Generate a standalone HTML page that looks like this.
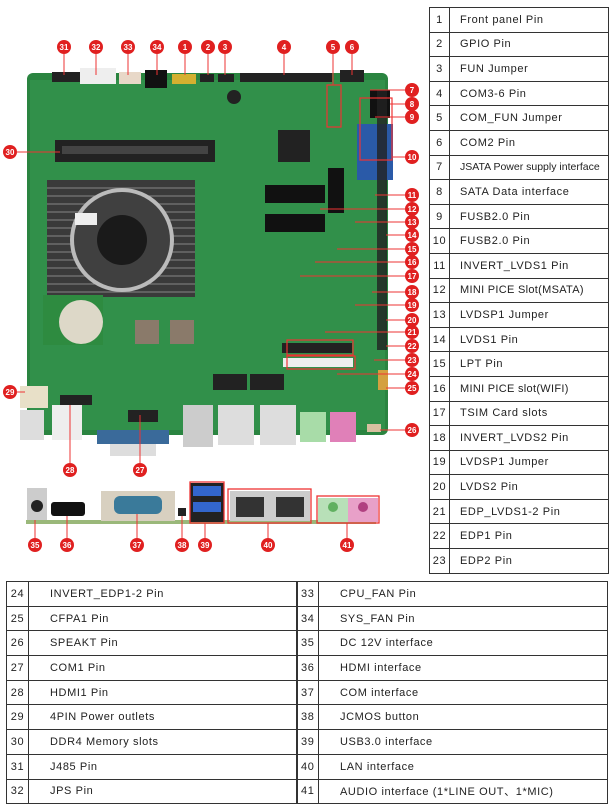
<!DOCTYPE html>
<html><head><meta charset="utf-8"><style>
body{margin:0;width:614px;height:810px;background:#fff;position:relative;overflow:hidden;font-family:"Liberation Sans",sans-serif;}
table{border-collapse:collapse;position:absolute;font-size:11px;letter-spacing:0.6px;color:#222;table-layout:fixed;}
td{border:1px solid #333;padding:0;white-space:nowrap;}
#rt{left:429px;top:7px;width:180px;}
#rt td{height:23.6px;}
#rt td.n{width:19px;text-align:center;}
#rt td.t{padding-left:10px;}
#bt{left:6px;top:581px;width:602px;}
#bt td{height:23.7px;}
#bt td.n{width:21px;text-align:center;}
#bt td.t{padding-left:21px;}
#bt td.n2{width:21px;text-align:center;border-left:2px solid #333;}
svg{position:absolute;left:0;top:0;}
</style></head><body>
<svg width="420" height="570" viewBox="0 0 420 570">
<rect x="27" y="73" width="361" height="362" rx="6" fill="#2a8440"/>
<rect x="30" y="80" width="355" height="350" fill="#31904a"/>
<rect x="52" y="72" width="28" height="10" fill="#222"/>
<rect x="80" y="68" width="36" height="16" fill="#eee"/>
<rect x="119" y="72" width="22" height="12" fill="#e8d8c8"/>
<rect x="145" y="70" width="22" height="18" fill="#111"/>
<rect x="172" y="74" width="24" height="10" fill="#d4b030"/>
<rect x="200" y="74" width="14" height="8" fill="#222"/>
<rect x="218" y="74" width="16" height="8" fill="#222"/>
<rect x="240" y="73" width="92" height="9" fill="#222"/>
<rect x="340" y="70" width="24" height="12" fill="#222"/>
<circle cx="234" cy="97" r="7" fill="#222"/>
<rect x="55" y="140" width="160" height="22" fill="#222"/>
<rect x="62" y="146" width="146" height="8" fill="#444"/>
<rect x="47" y="180" width="148" height="117" fill="#3a3a3a"/>
<g stroke="#777" stroke-width="1.2">
<line x1="47" y1="188" x2="195" y2="188"/><line x1="47" y1="196" x2="195" y2="196"/><line x1="47" y1="204" x2="195" y2="204"/><line x1="47" y1="212" x2="195" y2="212"/><line x1="47" y1="220" x2="195" y2="220"/><line x1="47" y1="228" x2="195" y2="228"/><line x1="47" y1="236" x2="195" y2="236"/><line x1="47" y1="244" x2="195" y2="244"/><line x1="47" y1="252" x2="195" y2="252"/><line x1="47" y1="260" x2="195" y2="260"/><line x1="47" y1="268" x2="195" y2="268"/><line x1="47" y1="276" x2="195" y2="276"/><line x1="47" y1="284" x2="195" y2="284"/><line x1="47" y1="292" x2="195" y2="292"/>
</g>
<circle cx="122" cy="240" r="52" fill="#bbb"/>
<circle cx="122" cy="240" r="48" fill="#2a2a2a" opacity=".85"/>
<circle cx="122" cy="240" r="25" fill="#1a1a1a"/>
<rect x="75" y="213" width="22" height="12" fill="#eee"/>
<rect x="278" y="130" width="32" height="32" fill="#222"/>
<rect x="265" y="185" width="60" height="18" fill="#111"/>
<rect x="265" y="214" width="60" height="18" fill="#111"/>
<rect x="328" y="168" width="16" height="45" fill="#111"/>
<rect x="357" y="150" width="36" height="30" fill="#2a5aa8"/>
<rect x="357" y="124" width="36" height="26" fill="#2a5aa8"/>
<rect x="370" y="90" width="20" height="28" fill="#111"/>
<rect x="377" y="90" width="10" height="260" fill="#222" opacity=".8"/>
<rect x="43" y="295" width="60" height="50" fill="#2e8b40"/>
<circle cx="81" cy="322" r="22" fill="#ddd8c8"/>
<rect x="135" y="320" width="24" height="24" fill="#8a7a6a"/>
<rect x="170" y="320" width="24" height="24" fill="#8a7a6a"/>
<rect x="282" y="343" width="70" height="10" fill="#222"/>
<rect x="283" y="358" width="70" height="9" fill="#eee"/>
<rect x="213" y="374" width="34" height="16" fill="#222"/>
<rect x="250" y="374" width="34" height="16" fill="#222"/>
<rect x="378" y="370" width="10" height="20" fill="#d4a040"/>
<rect x="20" y="386" width="28" height="22" fill="#e8e0c8"/>
<rect x="20" y="410" width="24" height="30" fill="#ddd"/>
<rect x="52" y="405" width="30" height="35" fill="#eee"/>
<rect x="60" y="395" width="32" height="10" fill="#222"/>
<rect x="128" y="410" width="30" height="12" fill="#222"/>
<rect x="97" y="430" width="72" height="14" fill="#3a6a9a"/>
<rect x="110" y="444" width="46" height="12" fill="#ddd"/>
<rect x="183" y="405" width="30" height="42" fill="#ccc"/>
<rect x="218" y="405" width="36" height="40" fill="#ddd"/>
<rect x="260" y="405" width="36" height="40" fill="#ddd"/>
<rect x="300" y="412" width="26" height="30" fill="#a8dca8"/>
<rect x="330" y="412" width="26" height="30" fill="#e080b8"/>
<rect x="367" y="424" width="14" height="8" fill="#d8c0a0"/>
<rect x="26" y="520" width="350" height="4" fill="#9ab87a"/>
<rect x="27" y="488" width="20" height="32" fill="#ccc"/><circle cx="37" cy="506" r="6" fill="#222"/>
<rect x="51" y="502" width="34" height="14" rx="3" fill="#111"/>
<rect x="101" y="491" width="74" height="30" fill="#d8d0c0"/>
<rect x="114" y="496" width="48" height="18" rx="6" fill="#3a7a9a"/>
<rect x="178" y="508" width="8" height="8" fill="#222"/>
<rect x="190" y="483" width="34" height="39" fill="#222"/>
<rect x="193" y="486" width="28" height="10" fill="#3366cc"/><rect x="193" y="502" width="28" height="10" fill="#3366cc"/>
<rect x="190" y="482" width="34" height="41" fill="none" stroke="#e33" stroke-width="1.3"/>
<rect x="230" y="491" width="40" height="30" fill="#ccc"/><rect x="270" y="491" width="40" height="30" fill="#ccc"/>
<rect x="236" y="497" width="28" height="20" fill="#333"/><rect x="276" y="497" width="28" height="20" fill="#333"/>
<rect x="228" y="489" width="83" height="34" fill="none" stroke="#e33" stroke-width="1.3"/>
<rect x="318" y="498" width="30" height="24" fill="#b8e0b8"/><rect x="348" y="498" width="30" height="24" fill="#e8a0c8"/>
<circle cx="333" cy="507" r="5" fill="#60b060"/><circle cx="363" cy="507" r="5" fill="#b04080"/>
<rect x="317" y="496" width="62" height="27" fill="none" stroke="#e33" stroke-width="1.3"/>
<g fill="none" stroke="#e33" stroke-width="1.2">
<rect x="327" y="85" width="14" height="42"/>
<rect x="360" y="98" width="32" height="62"/>
<rect x="287" y="340" width="66" height="15"/>
<rect x="287" y="356" width="68" height="13"/>
</g>
<g stroke="#e33" stroke-width="1" fill="none">
<line x1="64" y1="54" x2="64" y2="75"/><line x1="96" y1="54" x2="96" y2="75"/><line x1="128" y1="54" x2="128" y2="75"/><line x1="157" y1="54" x2="157" y2="75"/><line x1="185" y1="54" x2="185" y2="75"/><line x1="208" y1="54" x2="208" y2="75"/><line x1="225" y1="54" x2="225" y2="75"/><line x1="284" y1="54" x2="284" y2="75"/><line x1="333" y1="54" x2="333" y2="85"/><line x1="352" y1="54" x2="352" y2="75"/>
<line x1="17" y1="152" x2="60" y2="152"/><line x1="17" y1="392" x2="25" y2="392"/>
<line x1="70" y1="463" x2="70" y2="405"/><line x1="140" y1="463" x2="140" y2="415"/>
<line x1="370" y1="90" x2="405" y2="90"/><line x1="390" y1="104" x2="405" y2="104"/><line x1="375" y1="117" x2="405" y2="117"/><line x1="392" y1="157" x2="405" y2="157"/>
<line x1="375" y1="195" x2="405" y2="195"/><line x1="320" y1="209" x2="405" y2="209"/><line x1="355" y1="222" x2="405" y2="222"/><line x1="386" y1="235" x2="405" y2="235"/><line x1="337" y1="249" x2="405" y2="249"/><line x1="315" y1="262" x2="405" y2="262"/><line x1="300" y1="276" x2="405" y2="276"/><line x1="372" y1="292" x2="405" y2="292"/><line x1="355" y1="305" x2="405" y2="305"/><line x1="386" y1="320" x2="405" y2="320"/><line x1="325" y1="332" x2="405" y2="332"/><line x1="386" y1="346" x2="405" y2="346"/><line x1="374" y1="360" x2="405" y2="360"/><line x1="337" y1="374" x2="405" y2="374"/><line x1="386" y1="388" x2="405" y2="388"/><line x1="380" y1="430" x2="405" y2="430"/>
<line x1="35" y1="538" x2="35" y2="520"/><line x1="67" y1="538" x2="67" y2="516"/><line x1="137" y1="538" x2="137" y2="514"/><line x1="182" y1="538" x2="182" y2="516"/><line x1="205" y1="538" x2="205" y2="523"/><line x1="268" y1="538" x2="268" y2="523"/><line x1="347" y1="538" x2="347" y2="523"/>
</g>
<g font-family="Liberation Sans,sans-serif" font-size="8" font-weight="bold" fill="#fff" text-anchor="middle">
<g fill="#e02020">
<circle cx="64" cy="47" r="7"/><circle cx="96" cy="47" r="7"/><circle cx="128" cy="47" r="7"/><circle cx="157" cy="47" r="7"/><circle cx="185" cy="47" r="7"/><circle cx="208" cy="47" r="7"/><circle cx="225" cy="47" r="7"/><circle cx="284" cy="47" r="7"/><circle cx="333" cy="47" r="7"/><circle cx="352" cy="47" r="7"/>
<circle cx="412" cy="90" r="7"/><circle cx="412" cy="104" r="7"/><circle cx="412" cy="117" r="7"/><circle cx="412" cy="157" r="7"/><circle cx="412" cy="195" r="7"/><circle cx="412" cy="209" r="7"/><circle cx="412" cy="222" r="7"/><circle cx="412" cy="235" r="7"/><circle cx="412" cy="249" r="7"/><circle cx="412" cy="262" r="7"/><circle cx="412" cy="276" r="7"/><circle cx="412" cy="292" r="7"/><circle cx="412" cy="305" r="7"/><circle cx="412" cy="320" r="7"/><circle cx="412" cy="332" r="7"/><circle cx="412" cy="346" r="7"/><circle cx="412" cy="360" r="7"/><circle cx="412" cy="374" r="7"/><circle cx="412" cy="388" r="7"/><circle cx="412" cy="430" r="7"/>
<circle cx="10" cy="152" r="7"/><circle cx="10" cy="392" r="7"/><circle cx="70" cy="470" r="7"/><circle cx="140" cy="470" r="7"/>
<circle cx="35" cy="545" r="7"/><circle cx="67" cy="545" r="7"/><circle cx="137" cy="545" r="7"/><circle cx="182" cy="545" r="7"/><circle cx="205" cy="545" r="7"/><circle cx="268" cy="545" r="7"/><circle cx="347" cy="545" r="7"/>
</g>
<text x="64" y="50">31</text><text x="96" y="50">32</text><text x="128" y="50">33</text><text x="157" y="50">34</text><text x="185" y="50">1</text><text x="208" y="50">2</text><text x="225" y="50">3</text><text x="284" y="50">4</text><text x="333" y="50">5</text><text x="352" y="50">6</text>
<text x="412" y="93">7</text><text x="412" y="107">8</text><text x="412" y="120">9</text><text x="412" y="160">10</text><text x="412" y="198">11</text><text x="412" y="212">12</text><text x="412" y="225">13</text><text x="412" y="238">14</text><text x="412" y="252">15</text><text x="412" y="265">16</text><text x="412" y="279">17</text><text x="412" y="295">18</text><text x="412" y="308">19</text><text x="412" y="323">20</text><text x="412" y="335">21</text><text x="412" y="349">22</text><text x="412" y="363">23</text><text x="412" y="377">24</text><text x="412" y="391">25</text><text x="412" y="433">26</text>
<text x="10" y="155">30</text><text x="10" y="395">29</text><text x="70" y="473">28</text><text x="140" y="473">27</text>
<text x="35" y="548">35</text><text x="67" y="548">36</text><text x="137" y="548">37</text><text x="182" y="548">38</text><text x="205" y="548">39</text><text x="268" y="548">40</text><text x="347" y="548">41</text>
</g>
</svg>
<table id="rt">
<tr><td class="n">1</td><td class="t">Front panel Pin</td></tr>
<tr><td class="n">2</td><td class="t">GPIO Pin</td></tr>
<tr><td class="n">3</td><td class="t">FUN Jumper</td></tr>
<tr><td class="n">4</td><td class="t">COM3-6 Pin</td></tr>
<tr><td class="n">5</td><td class="t">COM_FUN Jumper</td></tr>
<tr><td class="n">6</td><td class="t">COM2 Pin</td></tr>
<tr><td class="n">7</td><td class="t" style="font-size:10.5px;letter-spacing:0px">JSATA Power supply interface</td></tr>
<tr><td class="n">8</td><td class="t">SATA Data interface</td></tr>
<tr><td class="n">9</td><td class="t">FUSB2.0 Pin</td></tr>
<tr><td class="n">10</td><td class="t">FUSB2.0 Pin</td></tr>
<tr><td class="n">11</td><td class="t">INVERT_LVDS1 Pin</td></tr>
<tr><td class="n">12</td><td class="t" style="letter-spacing:.3px">MINI PICE Slot(MSATA)</td></tr>
<tr><td class="n">13</td><td class="t">LVDSP1 Jumper</td></tr>
<tr><td class="n">14</td><td class="t">LVDS1 Pin</td></tr>
<tr><td class="n">15</td><td class="t">LPT Pin</td></tr>
<tr><td class="n">16</td><td class="t" style="letter-spacing:.3px">MINI PICE slot(WIFI)</td></tr>
<tr><td class="n">17</td><td class="t">TSIM Card slots</td></tr>
<tr><td class="n">18</td><td class="t">INVERT_LVDS2 Pin</td></tr>
<tr><td class="n">19</td><td class="t">LVDSP1 Jumper</td></tr>
<tr><td class="n">20</td><td class="t">LVDS2 Pin</td></tr>
<tr><td class="n">21</td><td class="t">EDP_LVDS1-2 Pin</td></tr>
<tr><td class="n">22</td><td class="t">EDP1 Pin</td></tr>
<tr><td class="n">23</td><td class="t">EDP2 Pin</td></tr>
</table>
<table id="bt">
<colgroup><col style="width:22px"><col style="width:268px"><col style="width:22px"><col></colgroup>
<tr><td class="n">24</td><td class="t">INVERT_EDP1-2 Pin</td><td class="n2">33</td><td class="t">CPU_FAN Pin</td></tr>
<tr><td class="n">25</td><td class="t">CFPA1 Pin</td><td class="n2">34</td><td class="t">SYS_FAN Pin</td></tr>
<tr><td class="n">26</td><td class="t">SPEAKT Pin</td><td class="n2">35</td><td class="t">DC 12V interface</td></tr>
<tr><td class="n">27</td><td class="t">COM1 Pin</td><td class="n2">36</td><td class="t">HDMI interface</td></tr>
<tr><td class="n">28</td><td class="t">HDMI1 Pin</td><td class="n2">37</td><td class="t">COM interface</td></tr>
<tr><td class="n">29</td><td class="t">4PIN Power outlets</td><td class="n2">38</td><td class="t">JCMOS button</td></tr>
<tr><td class="n">30</td><td class="t">DDR4 Memory slots</td><td class="n2">39</td><td class="t">USB3.0 interface</td></tr>
<tr><td class="n">31</td><td class="t">J485 Pin</td><td class="n2">40</td><td class="t">LAN interface</td></tr>
<tr><td class="n">32</td><td class="t">JPS Pin</td><td class="n2">41</td><td class="t" style="font-family:'Liberation Sans','Noto Sans CJK SC',sans-serif">AUDIO interface (1*LINE OUT、1*MIC)</td></tr>
</table>
</body></html>
